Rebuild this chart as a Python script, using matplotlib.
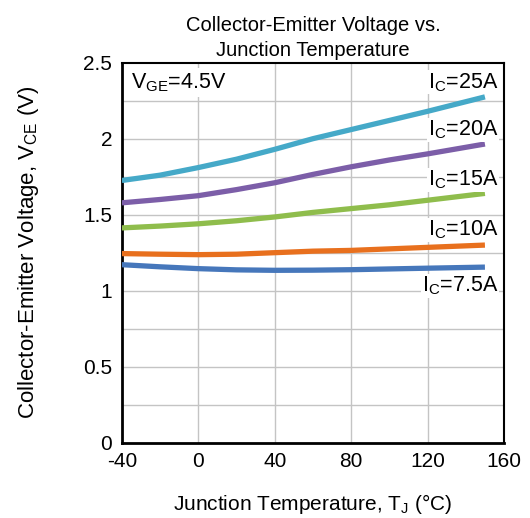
import matplotlib
matplotlib.use('Agg')
import matplotlib.pyplot as plt

plt.rcParams['font.family'] = ['Liberation Sans', 'DejaVu Sans']
plt.rcParams['mathtext.fontset'] = 'custom'
plt.rcParams['mathtext.rm'] = 'Liberation Sans'
plt.rcParams['axes.unicode_minus'] = False

# Data
temp = [-40, -20, 0, 20, 40, 60, 80, 100, 120, 150]
vce_25a = [1.725, 1.76, 1.81, 1.865, 1.93, 2.0, 2.06, 2.12, 2.18, 2.275]
vce_20a = [1.578, 1.60, 1.625, 1.665, 1.71, 1.765, 1.815, 1.86, 1.90, 1.965]
vce_15a = [1.413, 1.425, 1.44, 1.46, 1.485, 1.515, 1.54, 1.565, 1.595, 1.64]
vce_10a = [1.244, 1.24, 1.237, 1.24, 1.25, 1.26, 1.265, 1.275, 1.285, 1.30]
vce_7a5 = [1.171, 1.157, 1.145, 1.137, 1.134, 1.135, 1.138, 1.143, 1.148, 1.155]

series = [
    (vce_25a, '#45a9c8', '25A', 2.37),
    (vce_20a, '#7c5ea8', '20A', 2.06),
    (vce_15a, '#8fbd4c', '15A', 1.73),
    (vce_10a, '#e8701e', '10A', 1.40),
    (vce_7a5, '#4677bb', '7.5A', 1.03),
]

xticks = [-40, 0, 40, 80, 120, 160]
yticks = [0, 0.5, 1, 1.5, 2, 2.5]
ytick_labels = ['0', '0.5', '1', '1.5', '2', '2.5']

fig = plt.figure(figsize=(5.30, 5.18), dpi=100)
ax = fig.add_axes([0.230, 0.1454, 0.721, 0.7336])

# Grid
for x in xticks[1:-1]:
    ax.axvline(x, color='#c4c4c4', lw=1.0, zorder=0)
for y in [0.25, 0.5, 0.75, 1.0, 1.25, 1.5, 1.75, 2.0, 2.25]:
    ax.axhline(y, color='#c4c4c4', lw=1.0, zorder=0)

for vals, col, lab, ly in series:
    ax.plot(temp, vals, color=col, lw=3.8, solid_capstyle='butt', zorder=3)
    ax.text(157, ly, r'$\mathregular{I_C}$=' + lab, ha='right', va='center',
            fontsize=15.5, zorder=4,
            bbox=dict(facecolor='white', edgecolor='none', pad=0.5))

ax.text(-35, 2.37, r'$\mathregular{V_{GE}}$=4.5V', ha='left', va='center',
        fontsize=15.5, zorder=4,
        bbox=dict(facecolor='white', edgecolor='none', pad=2.0))

ax.set_xlim(-40, 160)
ax.set_ylim(0, 2.5)
ax.set_xticks(xticks)
ax.set_yticks(yticks)
ax.set_yticklabels(ytick_labels)
ax.tick_params(length=0, labelsize=15, pad=7)

for s in ['left', 'bottom']:
    ax.spines[s].set_linewidth(2.0)
for s in ['right', 'top']:
    ax.spines[s].set_linewidth(1.5)

ax.set_title('Collector-Emitter Voltage vs.\nJunction Temperature',
             fontsize=14.5, pad=5, linespacing=1.35)
ax.set_xlabel(r'Junction Temperature, $\mathregular{T_J}$ (°C)', fontsize=15,
              labelpad=15)
ax.set_ylabel(r'Collector-Emitter Voltage, $\mathregular{V_{CE}}$ (V)',
              fontsize=16, labelpad=30)

fig.savefig('out.png', dpi=100)
